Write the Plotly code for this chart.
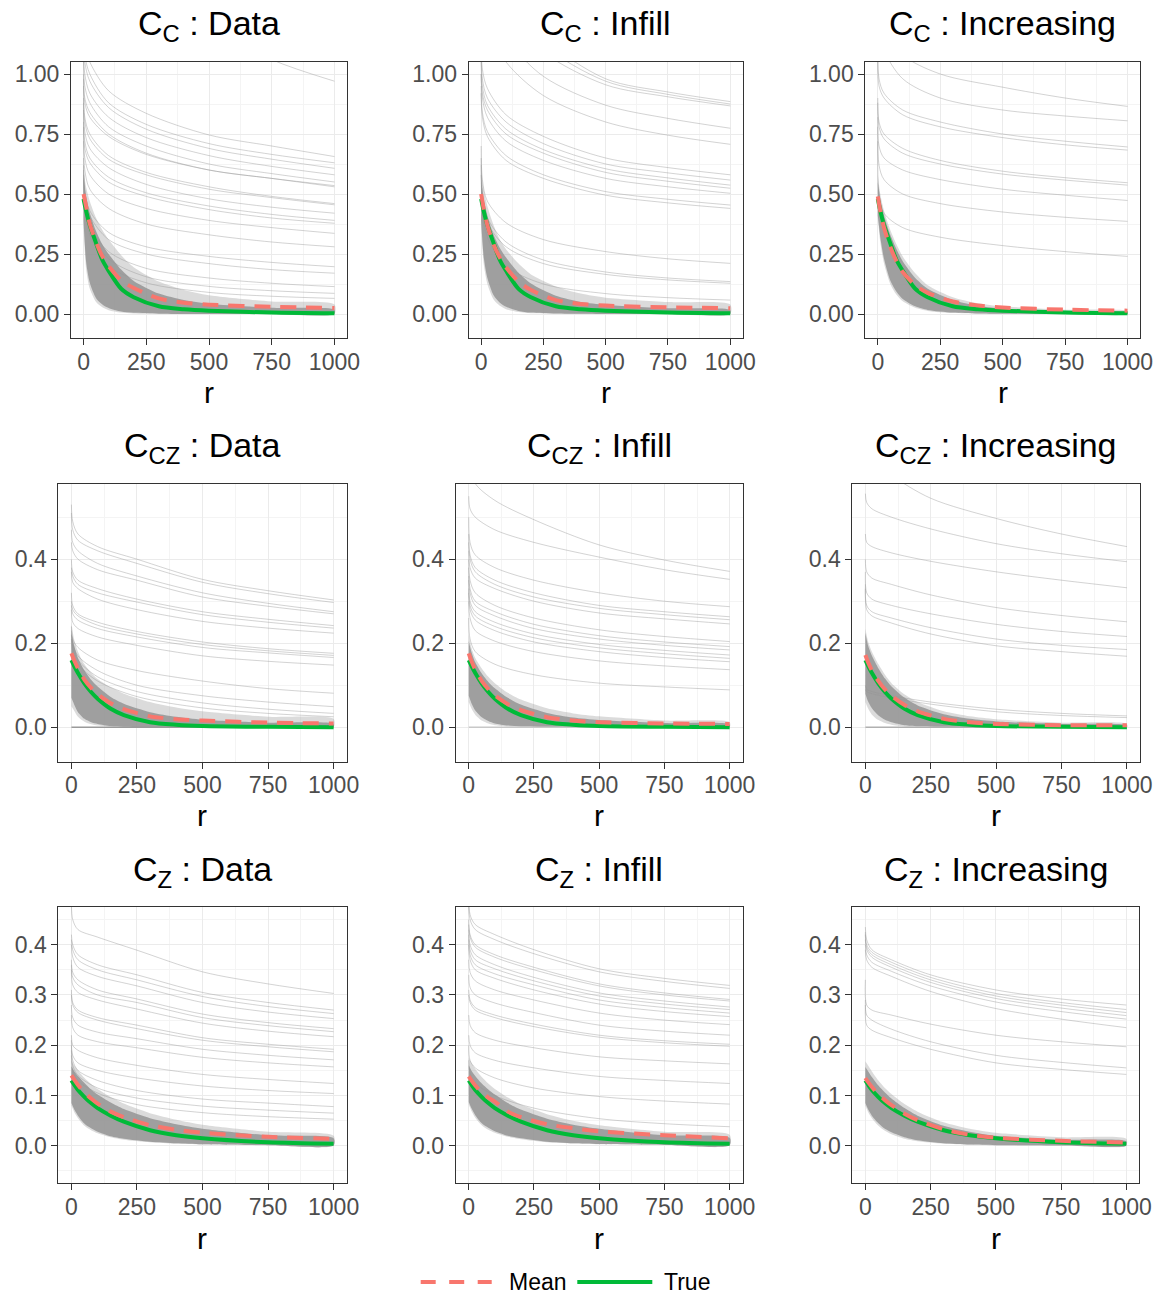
import plotly.graph_objects as go

# ---------------- data ----------------
R_BAND = [0, 10, 25, 50, 75, 100, 150, 200, 300, 400, 500, 750, 1000]
R_CURVE = [0, 5, 25, 100, 250, 500, 750, 1000]
X_TICKS = [0, 250, 500, 750, 1000]
X_TICK_TEXT = ["0", "250", "500", "750", "1000"]
X_MINOR = [125, 375, 625, 875]

Y_TICKS_C = [0, 0.25, 0.5, 0.75, 1.0]
Y_TEXT_C = ["0.00", "0.25", "0.50", "0.75", "1.00"]
Y_MINOR_C = [0.125, 0.375, 0.625, 0.875]
Y_TICKS_CZ = [0, 0.2, 0.4]
Y_TEXT_CZ = ["0.0", "0.2", "0.4"]
Y_MINOR_CZ = [0.1, 0.3, 0.5]
Y_TICKS_Z = [0, 0.1, 0.2, 0.3, 0.4]
Y_TEXT_Z = ["0.0", "0.1", "0.2", "0.3", "0.4"]
Y_MINOR_Z = [-0.05, 0.05, 0.15, 0.25, 0.35, 0.45]

# true covariance functions (one per row)
TRUE_C = [0.48, 0.43, 0.37, 0.295, 0.225, 0.18, 0.105, 0.07, 0.032, 0.02, 0.014, 0.006, 0.003]
TRUE_CZ = [0.16, 0.147, 0.129, 0.104, 0.084, 0.068, 0.044, 0.029, 0.012, 0.006, 0.003, 0.001, 0.0003]
TRUE_Z = [0.13, 0.122, 0.111, 0.097, 0.085, 0.075, 0.06, 0.048, 0.031, 0.021, 0.015, 0.007, 0.004]

# mean of estimates
MEAN_C_DATA = [0.50, 0.45, 0.375, 0.30, 0.24, 0.20, 0.14, 0.108, 0.065, 0.047, 0.039, 0.03, 0.025]
MEAN_C_INFILL = [0.50, 0.44, 0.37, 0.29, 0.235, 0.195, 0.135, 0.10, 0.058, 0.042, 0.035, 0.028, 0.024]
MEAN_C_INCR = [0.49, 0.43, 0.36, 0.28, 0.22, 0.175, 0.12, 0.088, 0.052, 0.036, 0.027, 0.018, 0.014]
MEAN_CZ_DATA = [0.176, 0.16, 0.14, 0.113, 0.094, 0.079, 0.057, 0.043, 0.026, 0.019, 0.016, 0.011, 0.009]
MEAN_CZ_INFILL = [0.176, 0.158, 0.137, 0.11, 0.091, 0.076, 0.055, 0.041, 0.024, 0.016, 0.012, 0.009, 0.008]
MEAN_CZ_INCR = [0.172, 0.155, 0.135, 0.11, 0.09, 0.075, 0.053, 0.038, 0.02, 0.012, 0.008, 0.005, 0.005]
MEAN_Z_DATA = [0.14, 0.132, 0.121, 0.106, 0.094, 0.084, 0.068, 0.057, 0.041, 0.032, 0.026, 0.018, 0.014]
MEAN_Z_INFILL = [0.138, 0.13, 0.12, 0.106, 0.096, 0.088, 0.068, 0.057, 0.043, 0.035, 0.029, 0.021, 0.015]
MEAN_Z_INCR = [0.135, 0.127, 0.117, 0.102, 0.091, 0.081, 0.064, 0.051, 0.033, 0.022, 0.016, 0.01, 0.0065]

# envelopes of the dense bundle of replicate curves (outer = faint fringe, core = dense)
C_DATA_OUT_HI = [0.60, 0.53, 0.47, 0.40, 0.35, 0.31, 0.245, 0.195, 0.135, 0.10, 0.078, 0.052, 0.04]
C_DATA_OUT_LO = [0.37, 0.19, 0.105, 0.05, 0.028, 0.016, 0.006, 0.0025, 0.0008, 0.0, 0.0, 0.0, 0.0]
C_DATA_CORE_HI = [0.57, 0.49, 0.42, 0.345, 0.29, 0.25, 0.185, 0.138, 0.085, 0.058, 0.043, 0.026, 0.018]
C_DATA_CORE_LO = [0.39, 0.22, 0.13, 0.066, 0.04, 0.025, 0.01, 0.005, 0.0015, 0.0005, 0.0, 0.0, 0.0]

C_INFILL_OUT_HI = [0.60, 0.52, 0.45, 0.37, 0.31, 0.27, 0.21, 0.165, 0.115, 0.085, 0.068, 0.05, 0.04]
C_INFILL_OUT_LO = [0.37, 0.21, 0.125, 0.06, 0.034, 0.02, 0.008, 0.0035, 0.001, 0.0, 0.0, 0.0, 0.0]
C_INFILL_CORE_HI = [0.56, 0.48, 0.41, 0.33, 0.275, 0.235, 0.172, 0.127, 0.076, 0.05, 0.038, 0.024, 0.017]
C_INFILL_CORE_LO = [0.39, 0.24, 0.15, 0.078, 0.047, 0.03, 0.013, 0.006, 0.002, 0.0008, 0.0, 0.0, 0.0]

C_INCR_OUT_HI = [0.58, 0.50, 0.43, 0.35, 0.29, 0.24, 0.17, 0.12, 0.07, 0.045, 0.032, 0.018, 0.012]
C_INCR_OUT_LO = [0.40, 0.30, 0.21, 0.125, 0.08, 0.053, 0.026, 0.013, 0.004, 0.0015, 0.0005, 0.0, 0.0]
C_INCR_CORE_HI = [0.55, 0.48, 0.41, 0.33, 0.27, 0.22, 0.15, 0.105, 0.058, 0.034, 0.022, 0.011, 0.007]
C_INCR_CORE_LO = [0.41, 0.32, 0.23, 0.14, 0.093, 0.063, 0.032, 0.017, 0.006, 0.002, 0.001, 0.0, 0.0]

CZ_DATA_OUT_HI = [0.25, 0.21, 0.18, 0.15, 0.13, 0.115, 0.095, 0.08, 0.06, 0.047, 0.038, 0.025, 0.02]
CZ_DATA_OUT_LO = [0.05, 0.04, 0.025, 0.013, 0.007, 0.004, 0.001, 0.0, 0.0, 0.0, 0.0, 0.0, 0.0]
CZ_DATA_CORE_HI = [0.225, 0.195, 0.165, 0.135, 0.113, 0.097, 0.072, 0.056, 0.036, 0.025, 0.018, 0.011, 0.008]
CZ_DATA_CORE_LO = [0.07, 0.055, 0.036, 0.02, 0.012, 0.008, 0.003, 0.0015, 0.0005, 0.0, 0.0, 0.0, 0.0]

CZ_INFILL_OUT_HI = [0.22, 0.19, 0.165, 0.14, 0.12, 0.105, 0.082, 0.066, 0.045, 0.033, 0.026, 0.016, 0.012]
CZ_INFILL_OUT_LO = [0.06, 0.045, 0.03, 0.016, 0.009, 0.005, 0.002, 0.001, 0.0, 0.0, 0.0, 0.0, 0.0]
CZ_INFILL_CORE_HI = [0.205, 0.18, 0.155, 0.128, 0.108, 0.093, 0.07, 0.054, 0.034, 0.023, 0.017, 0.01, 0.007]
CZ_INFILL_CORE_LO = [0.075, 0.058, 0.04, 0.024, 0.015, 0.009, 0.004, 0.002, 0.0005, 0.0, 0.0, 0.0, 0.0]

CZ_INCR_OUT_HI = [0.235, 0.205, 0.18, 0.15, 0.125, 0.105, 0.078, 0.06, 0.038, 0.026, 0.019, 0.011, 0.008]
CZ_INCR_OUT_LO = [0.06, 0.045, 0.03, 0.017, 0.01, 0.006, 0.002, 0.001, 0.0, 0.0, 0.0, 0.0, 0.0]
CZ_INCR_CORE_HI = [0.225, 0.195, 0.17, 0.14, 0.116, 0.097, 0.07, 0.052, 0.031, 0.02, 0.014, 0.008, 0.005]
CZ_INCR_CORE_LO = [0.08, 0.062, 0.045, 0.028, 0.018, 0.012, 0.005, 0.0025, 0.001, 0.0, 0.0, 0.0, 0.0]

Z_DATA_OUT_HI = [0.17, 0.16, 0.15, 0.135, 0.123, 0.113, 0.097, 0.084, 0.065, 0.052, 0.042, 0.028, 0.02]
Z_DATA_OUT_LO = [0.08, 0.068, 0.055, 0.04, 0.031, 0.025, 0.017, 0.012, 0.007, 0.004, 0.0025, 0.001, 0.0005]
Z_DATA_CORE_HI = [0.158, 0.149, 0.139, 0.125, 0.112, 0.102, 0.086, 0.073, 0.055, 0.043, 0.034, 0.021, 0.015]
Z_DATA_CORE_LO = [0.085, 0.073, 0.06, 0.044, 0.035, 0.028, 0.019, 0.014, 0.008, 0.005, 0.003, 0.0012, 0.0006]

Z_INFILL_OUT_HI = [0.175, 0.165, 0.153, 0.137, 0.124, 0.113, 0.096, 0.082, 0.063, 0.05, 0.041, 0.028, 0.022]
Z_INFILL_OUT_LO = [0.082, 0.07, 0.056, 0.041, 0.032, 0.026, 0.018, 0.013, 0.007, 0.0045, 0.003, 0.0015, 0.001]
Z_INFILL_CORE_HI = [0.16, 0.15, 0.139, 0.124, 0.112, 0.102, 0.085, 0.072, 0.054, 0.042, 0.034, 0.021, 0.016]
Z_INFILL_CORE_LO = [0.087, 0.075, 0.061, 0.045, 0.036, 0.029, 0.02, 0.015, 0.008, 0.005, 0.0035, 0.0018, 0.0011]

Z_INCR_OUT_HI = [0.168, 0.16, 0.148, 0.13, 0.115, 0.103, 0.083, 0.068, 0.047, 0.034, 0.026, 0.017, 0.014]
Z_INCR_OUT_LO = [0.08, 0.068, 0.055, 0.04, 0.03, 0.023, 0.014, 0.009, 0.004, 0.002, 0.001, 0.0005, 0.0002]
Z_INCR_CORE_HI = [0.157, 0.149, 0.137, 0.12, 0.106, 0.094, 0.075, 0.06, 0.04, 0.028, 0.02, 0.012, 0.009]
Z_INCR_CORE_LO = [0.085, 0.073, 0.06, 0.045, 0.034, 0.027, 0.017, 0.011, 0.005, 0.0025, 0.0013, 0.0006, 0.0003]

# individual outlying replicate curves, values at R_CURVE
C_DATA_CURVES = [
    [3.0, 2.5, 2.2, 1.8, 1.45, 1.2, 1.06, 0.97],
    [1.25, 1.12, 1.05, 0.93, 0.836, 0.746, 0.70, 0.656],
    [1.2, 1.08, 1.0, 0.88, 0.79, 0.71, 0.665, 0.63],
    [1.15, 1.05, 0.97, 0.86, 0.77, 0.69, 0.645, 0.607],
    [1.1, 1.0, 0.92, 0.82, 0.735, 0.66, 0.615, 0.58],
    [1.05, 0.95, 0.88, 0.78, 0.70, 0.625, 0.585, 0.55],
    [1.0, 0.9, 0.84, 0.75, 0.67, 0.60, 0.565, 0.53],
    [0.98, 0.88, 0.82, 0.74, 0.665, 0.60, 0.565, 0.535],
    [0.95, 0.82, 0.75, 0.66, 0.59, 0.53, 0.49, 0.46],
    [0.9, 0.8, 0.73, 0.645, 0.58, 0.52, 0.485, 0.455],
    [0.88, 0.76, 0.69, 0.61, 0.54, 0.48, 0.445, 0.42],
    [0.85, 0.72, 0.65, 0.57, 0.505, 0.45, 0.415, 0.39],
    [0.8, 0.69, 0.63, 0.55, 0.49, 0.435, 0.40, 0.378],
    [0.78, 0.65, 0.58, 0.50, 0.44, 0.39, 0.36, 0.336],
    [0.72, 0.6, 0.52, 0.44, 0.375, 0.33, 0.30, 0.28],
    [0.65, 0.52, 0.43, 0.34, 0.28, 0.24, 0.215, 0.197],
    [0.62, 0.5, 0.41, 0.31, 0.25, 0.21, 0.185, 0.17],
    [0.6, 0.48, 0.37, 0.26, 0.19, 0.15, 0.128, 0.114],
    [0.58, 0.46, 0.35, 0.23, 0.155, 0.115, 0.097, 0.086],
    [0.56, 0.44, 0.33, 0.2, 0.13, 0.09, 0.074, 0.065],
]
C_INFILL_CURVES = [
    [2.2, 1.8, 1.6, 1.35, 1.15, 0.98, 0.925, 0.885],
    [2.0, 1.7, 1.5, 1.3, 1.12, 0.97, 0.915, 0.875],
    [1.8, 1.6, 1.45, 1.25, 1.09, 0.955, 0.905, 0.867],
    [1.6, 1.45, 1.3, 1.15, 0.99, 0.87, 0.815, 0.774],
    [1.5, 1.3, 1.2, 1.05, 0.91, 0.80, 0.745, 0.707],
    [1.15, 1.02, 0.94, 0.83, 0.74, 0.65, 0.61, 0.58],
    [1.1, 0.98, 0.9, 0.8, 0.71, 0.625, 0.588, 0.558],
    [1.05, 0.95, 0.87, 0.77, 0.685, 0.605, 0.567, 0.537],
    [1.0, 0.92, 0.85, 0.75, 0.67, 0.59, 0.553, 0.524],
    [1.0, 0.9, 0.82, 0.72, 0.64, 0.565, 0.53, 0.503],
    [0.95, 0.84, 0.76, 0.66, 0.58, 0.51, 0.478, 0.454],
    [0.92, 0.82, 0.74, 0.64, 0.565, 0.495, 0.463, 0.44],
    [0.7, 0.56, 0.47, 0.38, 0.31, 0.26, 0.23, 0.211],
    [0.65, 0.5, 0.4, 0.3, 0.225, 0.175, 0.15, 0.135],
    [0.62, 0.48, 0.38, 0.28, 0.21, 0.165, 0.142, 0.128],
    [0.58, 0.44, 0.32, 0.2, 0.125, 0.085, 0.068, 0.058],
]
C_INCR_CURVES = [
    [1.5, 1.3, 1.2, 1.08, 1.0, 0.945, 0.9, 0.865],
    [1.4, 1.2, 1.1, 0.98, 0.9, 0.85, 0.825, 0.805],
    [1.1, 0.98, 0.92, 0.85, 0.80, 0.75, 0.72, 0.696],
    [1.05, 0.95, 0.9, 0.83, 0.78, 0.735, 0.705, 0.683],
    [0.9, 0.8, 0.75, 0.69, 0.64, 0.595, 0.568, 0.547],
    [0.88, 0.78, 0.73, 0.67, 0.625, 0.583, 0.558, 0.537],
    [0.82, 0.7, 0.65, 0.6, 0.56, 0.52, 0.495, 0.473],
    [0.78, 0.62, 0.56, 0.5, 0.46, 0.425, 0.403, 0.386],
    [0.72, 0.5, 0.42, 0.36, 0.32, 0.285, 0.26, 0.24],
]
CZ_DATA_CURVES = [
    [0.53, 0.49, 0.46, 0.43, 0.40, 0.352, 0.325, 0.303],
    [0.51, 0.47, 0.445, 0.42, 0.39, 0.345, 0.318, 0.297],
    [0.47, 0.44, 0.42, 0.39, 0.36, 0.32, 0.295, 0.275],
    [0.44, 0.42, 0.40, 0.375, 0.35, 0.31, 0.288, 0.27],
    [0.40, 0.37, 0.35, 0.33, 0.305, 0.275, 0.257, 0.242],
    [0.38, 0.36, 0.34, 0.32, 0.298, 0.268, 0.25, 0.236],
    [0.37, 0.345, 0.33, 0.305, 0.28, 0.252, 0.236, 0.224],
    [0.32, 0.29, 0.27, 0.25, 0.228, 0.203, 0.187, 0.176],
    [0.30, 0.28, 0.265, 0.243, 0.222, 0.197, 0.182, 0.171],
    [0.29, 0.27, 0.255, 0.235, 0.215, 0.19, 0.177, 0.166],
    [0.28, 0.25, 0.235, 0.215, 0.195, 0.17, 0.157, 0.148],
    [0.24, 0.21, 0.19, 0.16, 0.135, 0.11, 0.092, 0.081],
    [0.23, 0.2, 0.17, 0.135, 0.1, 0.075, 0.06, 0.049],
    [0.22, 0.19, 0.16, 0.12, 0.085, 0.058, 0.043, 0.033],
    [0.21, 0.18, 0.15, 0.11, 0.073, 0.046, 0.033, 0.025],
]
CZ_INFILL_CURVES = [
    [0.70, 0.62, 0.58, 0.54, 0.494, 0.434, 0.398, 0.371],
    [0.55, 0.52, 0.50, 0.47, 0.44, 0.405, 0.375, 0.352],
    [0.50, 0.44, 0.41, 0.38, 0.35, 0.32, 0.30, 0.287],
    [0.46, 0.41, 0.38, 0.35, 0.32, 0.29, 0.275, 0.263],
    [0.44, 0.40, 0.37, 0.34, 0.31, 0.283, 0.268, 0.256],
    [0.42, 0.38, 0.355, 0.33, 0.30, 0.272, 0.258, 0.246],
    [0.40, 0.35, 0.32, 0.29, 0.26, 0.232, 0.216, 0.204],
    [0.38, 0.33, 0.30, 0.275, 0.245, 0.218, 0.203, 0.192],
    [0.36, 0.32, 0.29, 0.265, 0.235, 0.21, 0.195, 0.184],
    [0.35, 0.30, 0.275, 0.25, 0.222, 0.197, 0.183, 0.172],
    [0.33, 0.29, 0.265, 0.24, 0.213, 0.189, 0.175, 0.164],
    [0.32, 0.28, 0.255, 0.23, 0.203, 0.18, 0.166, 0.156],
    [0.30, 0.26, 0.23, 0.205, 0.18, 0.158, 0.146, 0.137],
    [0.26, 0.21, 0.18, 0.15, 0.125, 0.105, 0.096, 0.089],
]
CZ_INCR_CURVES = [
    [0.75, 0.68, 0.64, 0.60, 0.545, 0.497, 0.46, 0.43],
    [0.556, 0.535, 0.52, 0.50, 0.472, 0.437, 0.413, 0.394],
    [0.46, 0.44, 0.43, 0.415, 0.395, 0.37, 0.35, 0.332],
    [0.40, 0.37, 0.355, 0.34, 0.315, 0.285, 0.266, 0.251],
    [0.37, 0.32, 0.305, 0.29, 0.27, 0.245, 0.228, 0.216],
    [0.34, 0.29, 0.275, 0.26, 0.237, 0.21, 0.195, 0.185],
    [0.33, 0.28, 0.265, 0.248, 0.222, 0.194, 0.18, 0.169],
    [0.10, 0.09, 0.085, 0.075, 0.06, 0.043, 0.033, 0.027],
    [0.09, 0.085, 0.08, 0.07, 0.055, 0.037, 0.028, 0.023],
]
Z_DATA_CURVES = [
    [0.48, 0.45, 0.43, 0.415, 0.389, 0.346, 0.322, 0.303],
    [0.42, 0.40, 0.38, 0.36, 0.34, 0.305, 0.285, 0.27],
    [0.41, 0.39, 0.37, 0.35, 0.33, 0.297, 0.277, 0.263],
    [0.40, 0.375, 0.355, 0.337, 0.318, 0.285, 0.266, 0.253],
    [0.37, 0.345, 0.33, 0.31, 0.292, 0.262, 0.245, 0.233],
    [0.36, 0.335, 0.32, 0.30, 0.285, 0.255, 0.239, 0.227],
    [0.35, 0.32, 0.305, 0.29, 0.272, 0.244, 0.228, 0.217],
    [0.31, 0.285, 0.27, 0.255, 0.24, 0.215, 0.202, 0.192],
    [0.30, 0.28, 0.265, 0.25, 0.233, 0.21, 0.197, 0.187],
    [0.28, 0.255, 0.24, 0.226, 0.213, 0.192, 0.18, 0.171],
    [0.26, 0.235, 0.22, 0.207, 0.195, 0.176, 0.165, 0.157],
    [0.22, 0.2, 0.19, 0.175, 0.16, 0.142, 0.132, 0.124],
    [0.21, 0.18, 0.165, 0.15, 0.135, 0.119, 0.11, 0.104],
    [0.2, 0.17, 0.15, 0.13, 0.11, 0.093, 0.085, 0.078],
    [0.19, 0.16, 0.14, 0.115, 0.095, 0.079, 0.071, 0.065],
    [0.18, 0.15, 0.13, 0.105, 0.082, 0.066, 0.058, 0.053],
]
Z_INFILL_CURVES = [
    [0.50, 0.46, 0.44, 0.42, 0.39, 0.352, 0.333, 0.319],
    [0.48, 0.45, 0.43, 0.41, 0.382, 0.346, 0.327, 0.313],
    [0.45, 0.42, 0.40, 0.38, 0.355, 0.322, 0.304, 0.291],
    [0.44, 0.415, 0.395, 0.375, 0.35, 0.318, 0.30, 0.288],
    [0.43, 0.40, 0.38, 0.36, 0.335, 0.304, 0.288, 0.276],
    [0.42, 0.39, 0.37, 0.352, 0.328, 0.298, 0.282, 0.271],
    [0.41, 0.38, 0.36, 0.342, 0.32, 0.29, 0.275, 0.264],
    [0.40, 0.37, 0.35, 0.333, 0.31, 0.282, 0.267, 0.257],
    [0.37, 0.345, 0.328, 0.31, 0.29, 0.264, 0.25, 0.241],
    [0.34, 0.315, 0.30, 0.284, 0.265, 0.24, 0.228, 0.22],
    [0.31, 0.29, 0.275, 0.26, 0.242, 0.22, 0.209, 0.202],
    [0.30, 0.285, 0.27, 0.255, 0.237, 0.216, 0.205, 0.198],
    [0.26, 0.24, 0.225, 0.21, 0.195, 0.177, 0.169, 0.163],
    [0.22, 0.2, 0.185, 0.17, 0.155, 0.138, 0.13, 0.124],
    [0.2, 0.17, 0.155, 0.135, 0.115, 0.098, 0.089, 0.083],
    [0.17, 0.145, 0.125, 0.1, 0.075, 0.054, 0.044, 0.038],
]
Z_INCR_CURVES = [
    [0.435, 0.41, 0.39, 0.37, 0.34, 0.31, 0.292, 0.28],
    [0.425, 0.40, 0.385, 0.365, 0.335, 0.303, 0.285, 0.271],
    [0.42, 0.395, 0.38, 0.36, 0.33, 0.298, 0.28, 0.265],
    [0.41, 0.39, 0.375, 0.355, 0.325, 0.293, 0.274, 0.259],
    [0.40, 0.38, 0.365, 0.347, 0.318, 0.286, 0.267, 0.252],
    [0.39, 0.37, 0.355, 0.337, 0.307, 0.273, 0.252, 0.235],
    [0.33, 0.28, 0.27, 0.26, 0.242, 0.22, 0.207, 0.197],
    [0.29, 0.26, 0.25, 0.232, 0.207, 0.18, 0.166, 0.155],
    [0.28, 0.24, 0.23, 0.215, 0.192, 0.165, 0.152, 0.142],
]
# replicates estimated as identically zero (C_CZ row)
ZERO_CURVE = [0.0, 0.0, 0.0, 0.0, 0.0, 0.0, 0.0, 0.0]

TITLES = [
    ("C", "Data"), ("C", "Infill"), ("C", "Increasing"),
    ("CZ", "Data"), ("CZ", "Infill"), ("CZ", "Increasing"),
    ("Z", "Data"), ("Z", "Infill"), ("Z", "Increasing"),
]

# ---------------- layout geometry (pixels) ----------------
W, H = 1162, 1296
BOXES = [
    (71, 347, 62, 338), (468.7, 742.7, 62, 338), (865.3, 1140, 62, 338),
    (58.3, 346.7, 484, 761.5), (455.7, 742.7, 484, 761.5), (852.3, 1140, 484, 761.5),
    (58.3, 346.7, 906.7, 1183.3), (455.7, 742.7, 906.7, 1183.3), (852.3, 1139.3, 906.7, 1183.3),
]
Y_RANGES = [[-0.1, 1.05], [-0.0815, 0.579], [-0.0745, 0.4755]]
Y_TICKSETS = [(Y_TICKS_C, Y_TEXT_C, Y_MINOR_C), (Y_TICKS_CZ, Y_TEXT_CZ, Y_MINOR_CZ), (Y_TICKS_Z, Y_TEXT_Z, Y_MINOR_Z)]
TITLE_Y = [26, 447, 871]
RLABEL_Y = [393, 815, 1238]

PANELS = [
    dict(true=TRUE_C, mean=MEAN_C_DATA, oh=C_DATA_OUT_HI, ol=C_DATA_OUT_LO, ch=C_DATA_CORE_HI, cl=C_DATA_CORE_LO, curves=C_DATA_CURVES, zero=None),
    dict(true=TRUE_C, mean=MEAN_C_INFILL, oh=C_INFILL_OUT_HI, ol=C_INFILL_OUT_LO, ch=C_INFILL_CORE_HI, cl=C_INFILL_CORE_LO, curves=C_INFILL_CURVES, zero=None),
    dict(true=TRUE_C, mean=MEAN_C_INCR, oh=C_INCR_OUT_HI, ol=C_INCR_OUT_LO, ch=C_INCR_CORE_HI, cl=C_INCR_CORE_LO, curves=C_INCR_CURVES, zero=None),
    dict(true=TRUE_CZ, mean=MEAN_CZ_DATA, oh=CZ_DATA_OUT_HI, ol=CZ_DATA_OUT_LO, ch=CZ_DATA_CORE_HI, cl=CZ_DATA_CORE_LO, curves=CZ_DATA_CURVES, zero="#9a9a9a"),
    dict(true=TRUE_CZ, mean=MEAN_CZ_INFILL, oh=CZ_INFILL_OUT_HI, ol=CZ_INFILL_OUT_LO, ch=CZ_INFILL_CORE_HI, cl=CZ_INFILL_CORE_LO, curves=CZ_INFILL_CURVES, zero="#c8c8c8"),
    dict(true=TRUE_CZ, mean=MEAN_CZ_INCR, oh=CZ_INCR_OUT_HI, ol=CZ_INCR_OUT_LO, ch=CZ_INCR_CORE_HI, cl=CZ_INCR_CORE_LO, curves=CZ_INCR_CURVES, zero="#b0b0b0"),
    dict(true=TRUE_Z, mean=MEAN_Z_DATA, oh=Z_DATA_OUT_HI, ol=Z_DATA_OUT_LO, ch=Z_DATA_CORE_HI, cl=Z_DATA_CORE_LO, curves=Z_DATA_CURVES, zero=None),
    dict(true=TRUE_Z, mean=MEAN_Z_INFILL, oh=Z_INFILL_OUT_HI, ol=Z_INFILL_OUT_LO, ch=Z_INFILL_CORE_HI, cl=Z_INFILL_CORE_LO, curves=Z_INFILL_CURVES, zero=None),
    dict(true=TRUE_Z, mean=MEAN_Z_INCR, oh=Z_INCR_OUT_HI, ol=Z_INCR_OUT_LO, ch=Z_INCR_CORE_HI, cl=Z_INCR_CORE_LO, curves=Z_INCR_CURVES, zero=None),
]

FONT = "Liberation Sans, Arial, Helvetica, sans-serif"
GRAY_LINE = "rgba(150,150,150,0.42)"
MEAN_COLOR = "#F8766D"
TRUE_COLOR = "#00BA38"


def px(x):
    return x / W


def py(y):
    return 1 - y / H


fig = go.Figure()
layout = dict(
    template="none",
    width=W, height=H, autosize=False, margin=dict(l=0, r=0, t=0, b=0, pad=0, autoexpand=False),
    paper_bgcolor="white", plot_bgcolor="white", showlegend=False,
    font=dict(family=FONT),
)
annotations = []
shapes = []

for k, p in enumerate(PANELS, start=1):
    xa = "x" if k == 1 else f"x{k}"
    ya = "y" if k == 1 else f"y{k}"
    common = dict(xaxis=xa, yaxis=ya, hoverinfo="skip", showlegend=False)

    fig.add_trace(go.Scatter(
        x=R_BAND + R_BAND[::-1], y=p["oh"] + p["ol"][::-1], mode="lines", fill="toself",
        fillcolor="rgba(160,160,160,0.38)", line=dict(width=0, shape="spline", smoothing=0.7), **common))
    fig.add_trace(go.Scatter(
        x=R_BAND + R_BAND[::-1], y=p["ch"] + p["cl"][::-1], mode="lines", fill="toself",
        fillcolor="rgba(150,150,150,0.88)", line=dict(width=0, shape="spline", smoothing=0.7), **common))
    for c in p["curves"]:
        fig.add_trace(go.Scatter(x=R_CURVE, y=c, mode="lines",
                                 line=dict(color=GRAY_LINE, width=1, shape="spline", smoothing=0.9), **common))
    if p["zero"]:
        fig.add_trace(go.Scatter(x=R_CURVE, y=ZERO_CURVE, mode="lines",
                                 line=dict(color=p["zero"], width=1.5), **common))
    fig.add_trace(go.Scatter(x=R_BAND, y=p["true"], mode="lines",
                             line=dict(color=TRUE_COLOR, width=4, shape="spline", smoothing=0.8), **common))
    fig.add_trace(go.Scatter(x=R_BAND, y=p["mean"], mode="lines",
                             line=dict(color=MEAN_COLOR, width=4, dash="16px,10px", shape="spline", smoothing=0.8), **common))

    l, r, t, b = BOXES[k - 1]
    row = (k - 1) // 3
    yt, ytxt, ymin = Y_TICKSETS[row]
    axis_common = dict(
        showgrid=True, gridcolor="#EBEBEB", gridwidth=1.2,
        showline=True, mirror=True, linecolor="#333333", linewidth=1,
        ticks="outside", ticklen=6, tickcolor="#333333", tickwidth=1,
        tickfont=dict(size=23, color="#4D4D4D", family=FONT), zeroline=False,
        automargin=False, showspikes=False,
    )
    layout["xaxis" if k == 1 else f"xaxis{k}"] = dict(
        domain=[px(l), px(r)], anchor=ya, range=[-50, 1050],
        tickmode="array", tickvals=X_TICKS, ticktext=X_TICK_TEXT, ticklabelstandoff=-3,
        minor=dict(tickmode="array", tickvals=X_MINOR, showgrid=True, gridcolor="#F4F4F4", gridwidth=1),
        **axis_common,
    )
    layout["yaxis" if k == 1 else f"yaxis{k}"] = dict(
        domain=[py(b), py(t)], anchor=xa, range=Y_RANGES[row],
        tickmode="array", tickvals=yt, ticktext=ytxt,
        minor=dict(tickmode="array", tickvals=ymin, showgrid=True, gridcolor="#F4F4F4", gridwidth=1),
        **axis_common,
    )

    sub, name = TITLES[k - 1]
    cx = (l + r) / 2
    annotations.append(dict(
        x=px(cx), y=py(TITLE_Y[row]), xref="paper", yref="paper", xanchor="center", yanchor="middle",
        text=f"C<sub>{sub}</sub> : {name}", showarrow=False, font=dict(size=34, color="black", family=FONT)))
    annotations.append(dict(
        x=px(cx), y=py(RLABEL_Y[row]), xref="paper", yref="paper", xanchor="center", yanchor="middle",
        text="r", showarrow=False, font=dict(size=30, color="black", family=FONT)))

# legend (drawn manually)
LEG_Y = 1282
shapes.append(dict(type="line", xref="paper", yref="paper", x0=px(420.7), x1=px(491.7), y0=py(LEG_Y), y1=py(LEG_Y),
                   line=dict(color=MEAN_COLOR, width=4, dash="15px,13.5px")))
shapes.append(dict(type="line", xref="paper", yref="paper", x0=px(577.3), x1=px(652.3), y0=py(LEG_Y), y1=py(LEG_Y),
                   line=dict(color=TRUE_COLOR, width=4)))
annotations.append(dict(x=px(507), y=py(LEG_Y), xref="paper", yref="paper", xanchor="left", yanchor="middle",
                        text="Mean", showarrow=False, font=dict(size=23, color="black", family=FONT)))
annotations.append(dict(x=px(662), y=py(LEG_Y), xref="paper", yref="paper", xanchor="left", yanchor="middle",
                        text="True", showarrow=False, font=dict(size=23, color="black", family=FONT)))

layout["annotations"] = annotations
layout["shapes"] = shapes
fig.update_layout(**layout)
fig.write_html(
    "out.html",
    config={"responsive": False, "displayModeBar": False},
    post_script="document.documentElement.style.overflow='hidden';document.body.style.margin='0';document.body.style.overflow='hidden';",
)
